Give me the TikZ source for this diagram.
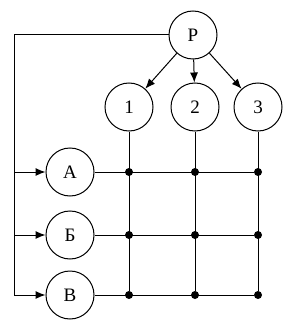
\documentclass[tikz,border=0pt]{standalone}
\usepackage{fontspec}
\setmainfont{Liberation Serif}
\usetikzlibrary{arrows.meta}

\begin{document}
\begin{tikzpicture}[
    x=1pt, y=-1pt,
    font=\fontsize{19}{21}\selectfont, >={Latex[length=10pt,width=8pt]},
    line width=1pt,
    nodo/.style={circle, draw, minimum size=48pt, inner sep=0pt},
    punto/.style={circle, fill=black, inner sep=0pt, minimum size=8pt}
  ]
    \useasboundingbox (0,0) rectangle (295,326);

    % --- NODOS ---
    \node[nodo] (P) at (193, 35) {Р};
    \node[nodo] (n1) at (129, 107) {1};
    \node[nodo] (n2) at (195, 107) {2};
    \node[nodo] (n3) at (258, 107) {3};
    \node[nodo] (A) at (70, 172) {А};
    \node[nodo] (B) at (70, 235) {Б};
    \node[nodo] (V) at (70, 295) {В};

    % --- PUNTOS DE LA MATRIZ ---
    \foreach \fila in {A, B, V} {
        \foreach \col in {n1, n2, n3} {
            \node[punto] (\fila-\col) at (\col |- \fila) {};
        }
    }

    % Flechas de P
    \foreach \col in {n1, n2, n3} {
        \draw[->] (P) -- (\col);
    }

    % --- LINEAS DE LA MATRIZ ---
    \foreach \col in {n1, n2, n3} {
        \draw (\col.south) -- (V-\col);
    }
    \foreach \fila in {A, B, V} {
        \draw (\fila.east) -- (\fila-n3);
    }

    % --- CONEXION IZQUIERDA ---
    \coordinate (izq) at (14, 295);
    \draw (P.west) -| (izq);
    \foreach \fila in {A, B, V} {
        \draw[->] (\fila.west -| izq) -- (\fila.west);
    }

  \end{tikzpicture}
\end{document}
